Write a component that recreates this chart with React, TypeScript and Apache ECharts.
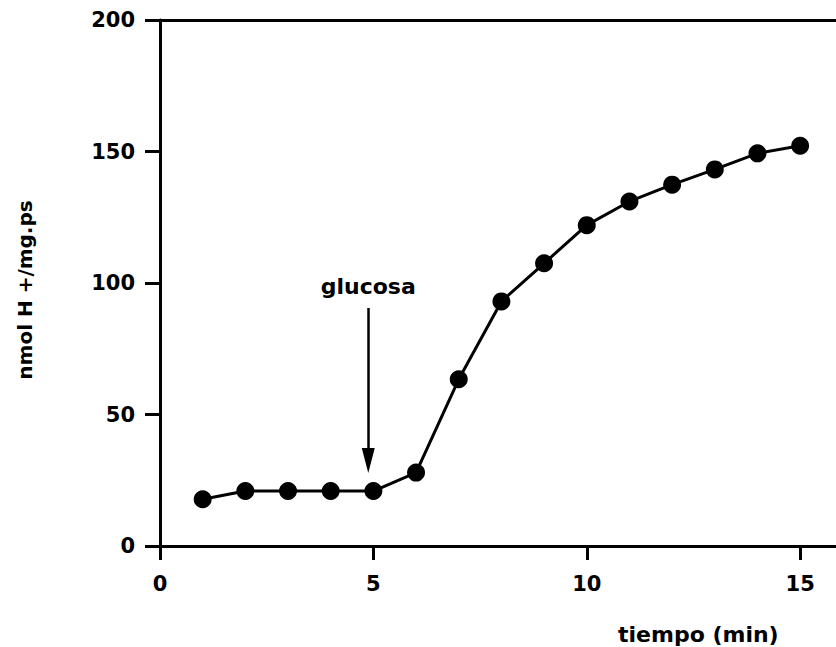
import React, { useEffect, useRef } from "react";
import * as echarts from "echarts";

const timeMin = [1, 2, 3, 4, 5, 6, 7, 8, 9, 10, 11, 12, 13, 14, 15];
const protons = [17.8, 20.9, 20.9, 20.9, 20.9, 27.9, 63.4, 93, 107.5, 122, 131, 137.4, 143.2, 149.3, 152.2];
const xTicks = [0, 5, 10, 15];
const arrowX = 4.88;
const arrowFrom = 90.5;
const arrowTo = 32.5;
const arrowLabel = "glucosa";
const xTitle = "tiempo (min)";
const yTitle = "nmol H +/mg.ps";

const FONT = "DejaVu Sans";

export default function App() {
  const ref = useRef<HTMLDivElement>(null);
  useEffect(() => {
    if (!ref.current) return;
    const chart = echarts.init(ref.current, null, { renderer: "svg" });
    const axisLine = { show: true, lineStyle: { color: "#000", width: 3 } };
    chart.setOption({
      animation: false,
      backgroundColor: "#fff",
      grid: { left: 160, top: 20, right: -2, bottom: 101, containLabel: false },
      xAxis: [
        {
          type: "value",
          min: 0,
          max: 15.84,
          axisLine,
          axisTick: { show: true, inside: false, length: 14, customValues: xTicks, lineStyle: { color: "#000", width: 3 } },
          axisLabel: { customValues: xTicks, margin: 27, color: "#000", fontFamily: FONT, fontWeight: "bold", fontSize: 21 },
          splitLine: { show: false },
        },
        {
          type: "value",
          position: "top",
          min: 0,
          max: 15.84,
          axisLine,
          axisTick: { show: false },
          axisLabel: { show: false },
          splitLine: { show: false },
        },
      ],
      yAxis: {
        type: "value",
        min: 0,
        max: 200,
        interval: 50,
        axisLine,
        axisTick: { show: true, length: 15, lineStyle: { color: "#000", width: 3 } },
        axisLabel: { margin: 25, color: "#000", fontFamily: FONT, fontWeight: "bold", fontSize: 21 },
        splitLine: { show: false },
      },
      graphic: [
        {
          type: "text",
          left: 618,
          top: 623,
          style: { text: xTitle, fill: "#000", font: `bold 22px "${FONT}"` },
        },
        {
          type: "text",
          x: 25,
          y: 290,
          rotation: Math.PI / 2,
          style: { text: yTitle, fill: "#000", font: `bold 20px "${FONT}"`, align: "center", verticalAlign: "middle" },
        },
      ],
      series: [
        {
          type: "line",
          data: timeMin.map((t, i) => [t, protons[i]]),
          symbol: "circle",
          symbolSize: 18,
          itemStyle: { color: "#000" },
          lineStyle: { color: "#000", width: 3 },
          markLine: {
            silent: true,
            symbol: ["none", "triangle"],
            symbolSize: [13, 25],
            lineStyle: { color: "#000", width: 2.5, type: "solid" },
            label: {
              show: true,
              position: "start",
              distance: 10,
              formatter: arrowLabel,
              color: "#000",
              fontFamily: FONT,
              fontWeight: "bold",
              fontSize: 22,
            },
            data: [[{ coord: [arrowX, arrowFrom] }, { coord: [arrowX, arrowTo] }]],
          },
        },
      ],
    });
    return () => chart.dispose();
  }, []);
  return <div ref={ref} style={{ position: "fixed", left: 0, top: 0, width: 836, height: 647 }} />;
}
